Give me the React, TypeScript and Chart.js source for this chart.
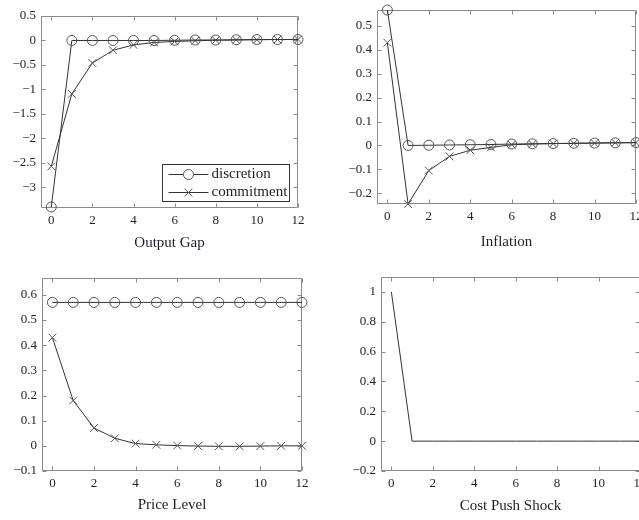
import React, { useEffect, useRef } from "react";
import { Chart, registerables } from "chart.js";

Chart.register(...registerables);

// ---------------- data ----------------
const periods = [0, 1, 2, 3, 4, 5, 6, 7, 8, 9, 10, 11, 12];
const xTicks = [0, 2, 4, 6, 8, 10, 12];

const outputGapDiscretion = [-3.4, 0, 0, 0, 0, 0, 0.005, 0.01, 0.01, 0.015, 0.02, 0.02, 0.02];
const outputGapCommitment = [-2.57, -1.09, -0.46, -0.2, -0.09, -0.04, -0.02, -0.005, 0.005, 0.01, 0.015, 0.02, 0.02];
const outputGapTicks = [-3, -2.5, -2, -1.5, -1, -0.5, 0, 0.5];

const inflationDiscretion = [0.567, 0, 0.001, 0.002, 0.003, 0.004, 0.006, 0.007, 0.008, 0.009, 0.01, 0.011, 0.012];
const inflationCommitment = [0.43, -0.245, -0.105, -0.046, -0.02, -0.008, 0.003, 0.006, 0.008, 0.009, 0.01, 0.011, 0.012];
const inflationTicks = [-0.2, -0.1, 0, 0.1, 0.2, 0.3, 0.4, 0.5];

const priceDiscretion = [0.57, 0.57, 0.57, 0.57, 0.57, 0.57, 0.57, 0.57, 0.57, 0.57, 0.57, 0.57, 0.57];
const priceCommitment = [0.43, 0.18, 0.071, 0.03, 0.009, 0.004, 0.001, -0.001, -0.002, -0.002, -0.001, 0, 0];
const priceTicks = [-0.1, 0, 0.1, 0.2, 0.3, 0.4, 0.5, 0.6];

const costPushShock = [1, 0, 0, 0, 0, 0, 0, 0, 0, 0, 0, 0, 0];
const costPushTicks = [-0.2, 0, 0.2, 0.4, 0.6, 0.8, 1];

const seriesNames = ["discretion", "commitment"];

// ---------------- style ----------------
const FONT = "'Liberation Serif', 'Times New Roman', serif";
const TEXT = "#1d1d2b";
const AXIS = "#8a8a8a";
const LINE = "#333333";
const MARK = "#555555";

Chart.defaults.font.family = FONT;

const fmt = (v: number) => (v < 0 ? "\u2212" + String(Math.abs(v)) : String(v));

const framePlugin = {
  id: "frame",
  beforeDatasetsDraw(chart: any) {
    const { ctx, chartArea: a, scales } = chart;
    ctx.save();
    ctx.strokeStyle = AXIS;
    ctx.lineWidth = 1;
    const L = Math.round(a.left) + 0.5;
    const R = Math.round(a.right) - 0.5;
    const T = Math.round(a.top) + 0.5;
    const B = Math.round(a.bottom) - 0.5;
    ctx.beginPath();
    ctx.rect(L, T, R - L, B - T);
    const tl = 4;
    for (const t of scales.x.ticks) {
      const px = Math.round(scales.x.getPixelForValue(t.value)) + 0.5;
      ctx.moveTo(px, B);
      ctx.lineTo(px, B - tl);
      ctx.moveTo(px, T);
      ctx.lineTo(px, T + tl);
    }
    for (const t of scales.y.ticks) {
      const py = Math.round(scales.y.getPixelForValue(t.value)) + 0.5;
      ctx.moveTo(L, py);
      ctx.lineTo(L + tl, py);
      ctx.moveTo(R, py);
      ctx.lineTo(R - tl, py);
    }
    ctx.stroke();
    ctx.restore();
  },
};

const legendPlugin = {
  id: "boxLegend",
  afterDraw(chart: any) {
    const opts = chart.options.plugins.boxLegend;
    if (!opts || !opts.show) return;
    const { ctx, chartArea: a } = chart;
    const w = 127;
    const h = 37;
    const x0 = Math.round(a.right - 9 - w) + 0.5;
    const y0 = Math.round(a.bottom - 7 - h) + 0.5;
    ctx.save();
    ctx.fillStyle = "#ffffff";
    ctx.fillRect(x0, y0, w, h);
    ctx.strokeStyle = "#333";
    ctx.lineWidth = 1;
    ctx.strokeRect(x0, y0, w, h);
    const rows = [y0 + 9.5, y0 + 27];
    chart.data.datasets.forEach((ds: any, i: number) => {
      const cy = Math.round(rows[i]) + 0.5;
      ctx.strokeStyle = LINE;
      ctx.beginPath();
      ctx.moveTo(x0 + 6, cy);
      ctx.lineTo(x0 + 46, cy);
      ctx.stroke();
      ctx.strokeStyle = MARK;
      ctx.beginPath();
      const mx = x0 + 26;
      if (ds.pointStyle === "circle") {
        ctx.fillStyle = "#fff";
        ctx.arc(mx, cy, 5, 0, Math.PI * 2);
        ctx.fill();
      } else {
        const d = 3.9;
        ctx.moveTo(mx - d, cy - d);
        ctx.lineTo(mx + d, cy + d);
        ctx.moveTo(mx - d, cy + d);
        ctx.lineTo(mx + d, cy - d);
      }
      ctx.stroke();
      ctx.fillStyle = TEXT;
      ctx.font = `15px ${FONT}`;
      ctx.textBaseline = "middle";
      ctx.textAlign = "left";
      ctx.fillText(ds.label, x0 + 49, cy);
    });
    ctx.restore();
  },
};

type Area = { l: number; t: number; r: number; b: number };
type PanelCfg = {
  title: string;
  area: Area;
  titleY: number;
  yMin: number;
  yMax: number;
  yTicks: number[];
  datasets: any[];
  legend?: boolean;
};

const discretionStyle = {
  borderColor: LINE,
  borderWidth: 1,
  pointStyle: "circle",
  pointRadius: 5,
  pointBorderColor: MARK,
  pointBackgroundColor: "rgba(255,255,255,0)",
  pointBorderWidth: 1,
  tension: 0,
  clip: false,
};
const commitmentStyle = {
  borderColor: LINE,
  borderWidth: 1,
  pointStyle: "crossRot",
  pointRadius: 5.5,
  pointBorderColor: MARK,
  pointBorderWidth: 1,
  tension: 0,
  clip: false,
};

const toXY = (arr: number[]) => arr.map((y, i) => ({ x: periods[i], y }));

const panels: PanelCfg[] = [
  {
    title: "Output Gap",
    area: { l: 41, t: 16, r: 298, b: 208 },
    titleY: 243,
    yMin: -3.42,
    yMax: 0.5,
    yTicks: outputGapTicks,
    legend: true,
    datasets: [
      { label: seriesNames[0], data: toXY(outputGapDiscretion), ...discretionStyle },
      { label: seriesNames[1], data: toXY(outputGapCommitment), ...commitmentStyle },
    ],
  },
  {
    title: "Inflation",
    area: { l: 377, t: 10, r: 636, b: 204 },
    titleY: 242,
    yMin: -0.245,
    yMax: 0.567,
    yTicks: inflationTicks,
    datasets: [
      { label: seriesNames[0], data: toXY(inflationDiscretion), ...discretionStyle },
      { label: seriesNames[1], data: toXY(inflationCommitment), ...commitmentStyle },
    ],
  },
  {
    title: "Price Level",
    area: { l: 42, t: 278, r: 302, b: 471 },
    titleY: 505,
    yMin: -0.1,
    yMax: 0.667,
    yTicks: priceTicks,
    datasets: [
      { label: seriesNames[0], data: toXY(priceDiscretion), ...discretionStyle },
      { label: seriesNames[1], data: toXY(priceCommitment), ...commitmentStyle },
    ],
  },
  {
    title: "Cost Push Shock",
    area: { l: 381, t: 277, r: 640, b: 471 },
    titleY: 506,
    yMin: -0.2,
    yMax: 1.1,
    yTicks: costPushTicks,
    datasets: [
      {
        label: "cost push shock",
        data: toXY(costPushShock),
        borderColor: LINE,
        borderWidth: 1,
        pointRadius: 0,
        tension: 0,
        clip: false,
      },
    ],
  },
];

const YW = 45;
const PAD = 12;

function Panel({ cfg }: { cfg: PanelCfg }) {
  const ref = useRef<HTMLCanvasElement>(null);
  const { area, titleY } = cfg;
  const left = area.l - YW;
  const top = area.t - PAD;
  const width = area.r + PAD - left;
  const height = titleY + PAD - top;
  const xH = titleY + PAD - area.b;

  useEffect(() => {
    if (!ref.current) return;
    const chart = new Chart(ref.current, {
      type: "line",
      data: { datasets: cfg.datasets },
      plugins: [framePlugin, legendPlugin],
      options: {
        responsive: false,
        animation: false,
        devicePixelRatio: 1,
        layout: { padding: { left: 0, right: PAD, top: PAD, bottom: 0 } },
        plugins: {
          legend: { display: false },
          tooltip: { enabled: false },
          boxLegend: { show: !!cfg.legend },
        } as any,
        scales: {
          x: {
            type: "linear",
            min: -0.5,
            max: 12,
            grid: { display: false, drawTicks: false },
            border: { display: false },
            afterBuildTicks: (s: any) => {
              s.ticks = xTicks.map((v) => ({ value: v }));
            },
            afterFit: (s: any) => {
              s.height = xH;
              s.paddingLeft = 0;
              s.paddingRight = 0;
            },
            ticks: {
              autoSkip: false,
              maxRotation: 0,
              padding: 5,
              color: TEXT,
              font: { size: 13, family: FONT },
              callback: (v: any) => fmt(Number(v)),
            },
            title: {
              display: true,
              text: cfg.title,
              color: TEXT,
              font: { size: 15, family: FONT },
              padding: { top: 0, bottom: 3 },
            },
          },
          y: {
            type: "linear",
            min: cfg.yMin,
            max: cfg.yMax,
            grid: { display: false, drawTicks: false },
            border: { display: false },
            afterBuildTicks: (s: any) => {
              s.ticks = cfg.yTicks.map((v) => ({ value: v }));
            },
            afterFit: (s: any) => {
              s.width = YW;
              s.paddingTop = 0;
              s.paddingBottom = 0;
            },
            ticks: {
              autoSkip: false,
              padding: 5,
              color: TEXT,
              font: { size: 13, family: FONT },
              callback: (v: any) => fmt(Number(v)),
            },
          },
        },
      } as any,
    });
    return () => chart.destroy();
  }, []);

  return (
    <div style={{ position: "absolute", left, top, width, height }}>
      <canvas ref={ref} width={width} height={height} style={{ width, height, display: "block" }} />
    </div>
  );
}

export default function App() {
  return (
    <div
      style={{
        position: "fixed",
        left: 0,
        top: 0,
        width: 639,
        height: 520,
        overflow: "hidden",
        background: "#ffffff",
      }}
    >
      {panels.map((p, i) => (
        <Panel key={i} cfg={p} />
      ))}
    </div>
  );
}
